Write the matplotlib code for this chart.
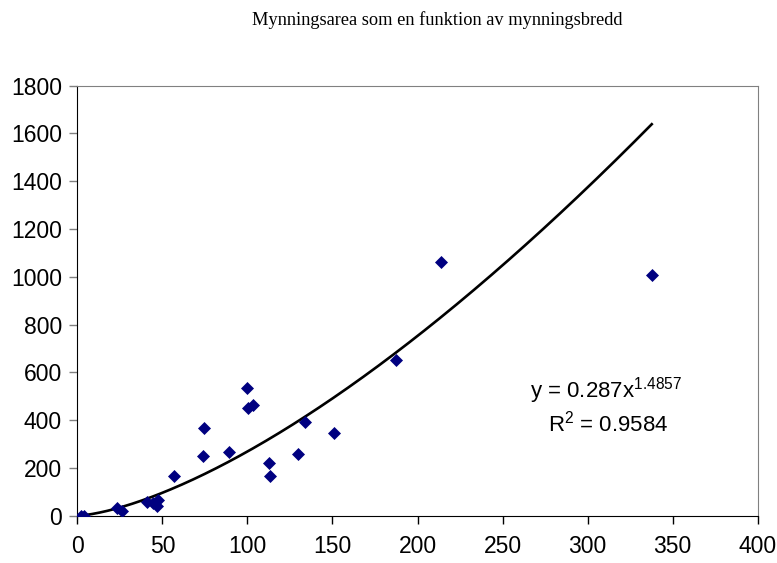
import numpy as np
import matplotlib.pyplot as plt

plt.rcParams['mathtext.fontset'] = 'custom'
plt.rcParams['mathtext.rm'] = 'Liberation Sans'
plt.rcParams['mathtext.it'] = 'Liberation Sans'
plt.rcParams['font.family'] = 'Liberation Sans'

# mouth width vs mouth area
bredd = [2.0, 3.9, 23.2, 26.1, 40.8, 44.7, 47.6, 46.7, 57.0, 73.7, 74.5, 89.4,
         99.6, 100.2, 103.5, 112.7, 113.3, 129.9, 133.9, 151.1, 187.2, 213.8, 337.7]
area = [0, 0, 31, 21, 59, 52, 66, 42, 167, 250, 368, 265,
        533, 450, 463, 219, 167, 258, 393, 345, 652, 1063, 1007]

# power trendline as given in the chart
coef_a = 0.287
coef_b = 1.4857
r2 = 0.9584

xticks = [0, 50, 100, 150, 200, 250, 300, 350, 400]
yticks = [0, 200, 400, 600, 800, 1000, 1200, 1400, 1600, 1800]

fig = plt.figure(figsize=(7.77, 5.63), dpi=100)
ax = fig.add_axes([0.0995, 0.084, 0.8757, 0.7638])

ax.scatter(bredd, area, marker='D', s=44, color='#000080', zorder=3, linewidths=0)

x_fit = np.linspace(min(bredd), max(bredd), 300)
ax.plot(x_fit, coef_a * x_fit ** coef_b, color='black', lw=1.9, zorder=2)

ax.set_xlim(0, 400)
ax.set_ylim(0, 1800)
ax.set_xticks(xticks)
ax.set_yticks(yticks)
ax.tick_params(axis='both', direction='out', length=6, width=1, labelsize=16.5)
ax.tick_params(axis='y', colors='#808080', labelcolor='black', pad=5)
ax.tick_params(axis='x', pad=8)

ax.spines['left'].set_color('black')
ax.spines['bottom'].set_color('black')
ax.spines['top'].set_color('#808080')
ax.spines['right'].set_color('#808080')

# equation label (display coords measured from the bottom-left)
ax.text(606, 563 - 391, f'y = {coef_a}x$^{{{coef_b}}}$', transform=None,
        fontsize=16, ha='center', va='center')
ax.text(608, 563 - 424, f'R$^{{2}}$ = {r2}', transform=None,
        fontsize=16, ha='center', va='center')

fig.text(437 / 777, 1 - 20 / 563, 'Mynningsarea som en funktion av mynningsbredd',
         ha='center', va='center', fontsize=13.2, family='Liberation Serif')

fig.savefig('out.png', dpi=100)
